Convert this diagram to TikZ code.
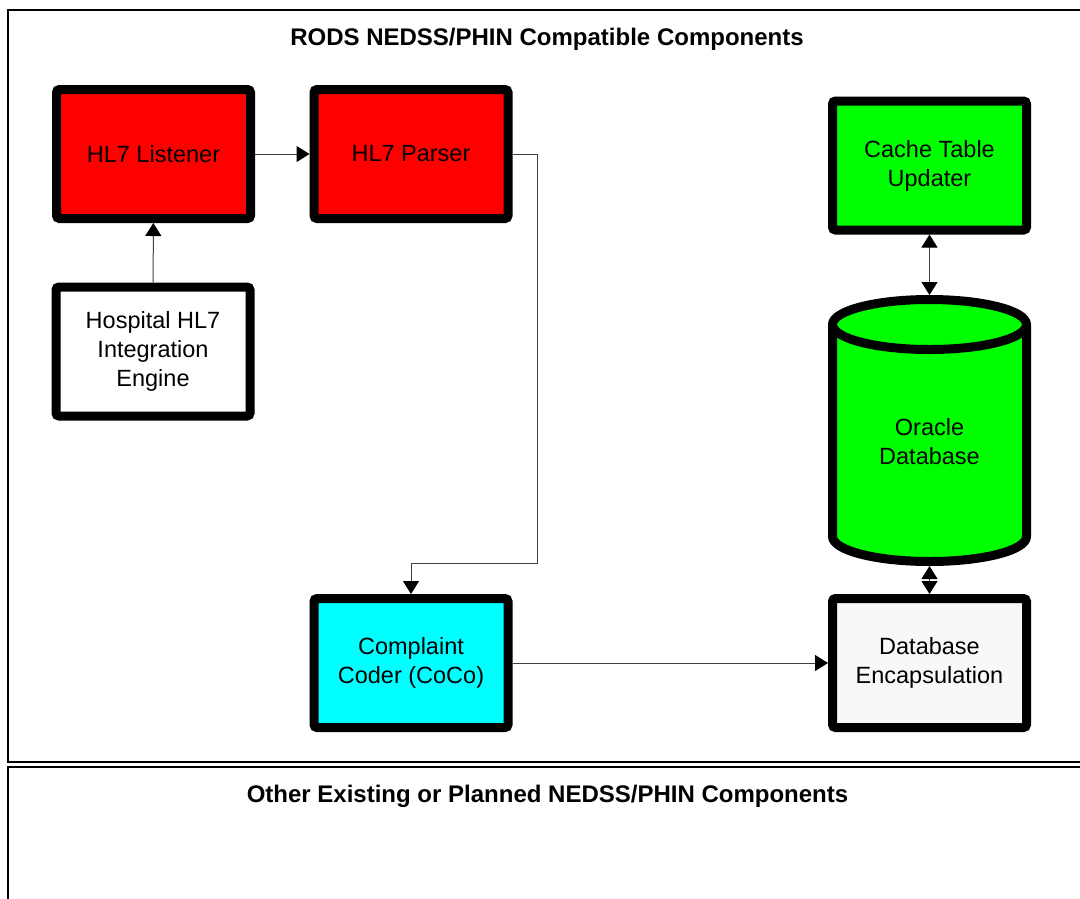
\documentclass[tikz,border=0pt]{standalone}
\usepackage{fontspec}
\setmainfont{Liberation Sans}
\usepackage{tikz}
\usetikzlibrary{arrows.meta}
\definecolor{hlred}{RGB}{255,0,0}
\definecolor{dbgreen}{RGB}{0,255,0}
\definecolor{cocyan}{RGB}{0,255,255}
\definecolor{encgray}{RGB}{248,248,248}
\tikzstyle{comp} = [draw, line width=9pt, rounded corners=3pt, minimum width=194pt, minimum height=129pt, inner sep=0pt, align=center, font=\fontsize{23.5}{29}\selectfont]
\tikzstyle{conn} = [line width=1pt, draw=black!75, -{Triangle[length=13pt,width=16pt,color=black]}]
\tikzstyle{both} = [line width=1pt, draw=black!75, {Triangle[length=13pt,width=16pt,color=black]}-{Triangle[length=13pt,width=16pt,color=black]}]
\tikzstyle{title} = [font=\fontsize{24}{29}\selectfont\bfseries, anchor=base]

\begin{document}
\begin{tikzpicture}[x=1pt,y=-1pt]
  \useasboundingbox (0,0) rectangle (1080,898);
  \clip (0,0) rectangle (1080,898);
  % panels
  \draw[line width=1.2pt] (8,10) rectangle (1100,762);
  \draw[line width=1.2pt] (8,767) rectangle (1100,930);
  \node[title] (rodstitle) at (547,45) {RODS NEDSS/PHIN Compatible Components};
  \node[title] (othertitle) at (547.5,802) {Other Existing or Planned NEDSS/PHIN Components};
  % components
  \node[comp, fill=hlred] (listener) at (153.5,154) {HL7 Listener};
  \node[comp, fill=hlred] (parser) at (411,154) {HL7 Parser};
  \node[comp, fill=white] (hospital) at (153,351.5) {Hospital HL7\\Integration\\Engine};
  \node[comp, fill=dbgreen] (cache) at (929.5,165.5) {Cache Table\\Updater};
  \node[comp, fill=cocyan] (coder) at (411,663) {Complaint\\Coder (CoCo)};
  \node[comp, fill=encgray] (encap) at (929.5,663) {Database\\Encapsulation};
  % database drum
  \filldraw[line width=9pt, line join=round, fill=dbgreen]
    (832.5,324.5) -- (832.5,536.5) arc[start angle=180, end angle=0, x radius=97, y radius=25]
    -- (1026.5,324.5) arc[start angle=0, end angle=-180, x radius=97, y radius=25] -- cycle;
  \draw[line width=9pt] (832.5,324.5) arc[start angle=180, end angle=0, x radius=97, y radius=25];
  \node[comp, draw=none, fill=none, minimum height=262pt] (oracle) at (929.5,430.5) {};
  \node[font=\fontsize{23.5}{29}\selectfont, align=center] (oracletext) at (929.5,442) {Oracle\\Database};
  \coordinate (turn) at (537,563);
  % connectors
  \draw[conn] (listener) -- (parser);
  \draw[conn] (hospital) -- (listener);
  \draw[conn] (parser.east) -| (turn) -| (coder.north);
  \draw[conn] (coder) -- (encap);
  \draw[both] (cache) -- (oracle);
  \draw[both] (oracle) -- (encap);
\end{tikzpicture}
\end{document}
